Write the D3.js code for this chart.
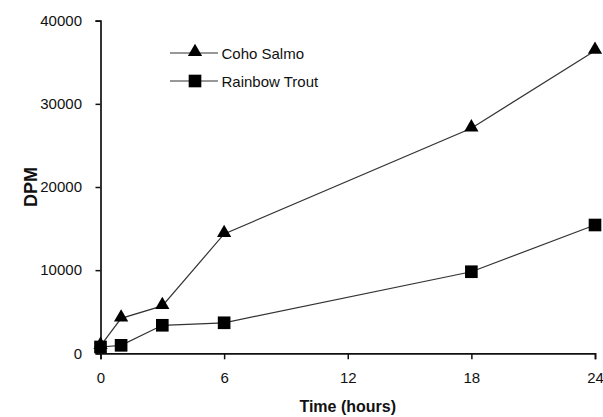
<!DOCTYPE html>
<html><head><meta charset="utf-8">
<script src="https://cdn.jsdelivr.net/npm/d3@7"></script>
<style>body{margin:0;background:#fff}svg{display:block}text{font-family:"Liberation Sans",Arial,sans-serif;fill:#111}</style>
</head><body>
<script>
const hours = [0, 1, 3, 6, 18, 24];
const cohoSalmo = [900, 4200, 5700, 14350, 27060, 36400];
const rainbowTrout = [760, 960, 3370, 3670, 9810, 15430];
const xTicks = [0, 6, 12, 18, 24];
const yTicks = [0, 10000, 20000, 30000, 40000];
const seriesNames = ["Coho Salmo", "Rainbow Trout"];

const W = 603, H = 417;
const svg = d3.select("body").append("svg").attr("width", W).attr("height", H);
const x = d3.scaleLinear().domain([0, 24]).range([100.5, 595]);
const y = d3.scaleLinear().domain([0, 40000]).range([353.3, 20.7]);

const xAxis = svg.append("g").attr("transform", `translate(0,${y(0)})`)
  .call(d3.axisBottom(x).tickValues(xTicks).tickSize(6).tickPadding(5).tickFormat(d3.format("d")));
const yAxis = svg.append("g").attr("transform", `translate(${x(0)},0)`)
  .call(d3.axisLeft(y).tickValues(yTicks).tickSize(5).tickPadding(13.5).tickFormat(d3.format("d")));
[xAxis, yAxis].forEach(a => {
  a.select(".domain").attr("stroke", "#111").attr("stroke-width", 1.7);
  a.selectAll(".tick line").attr("stroke", "#111").attr("stroke-width", 1.5);
  a.selectAll(".tick text").attr("font-size", 15).attr("font-family", '"Liberation Sans",Arial,sans-serif').attr("fill", "#111");
});
xAxis.selectAll(".tick text").attr("dy", "1.27em");

svg.append("text").attr("x", (x(0) + x(24)) / 2).attr("y", 411.5).attr("text-anchor", "middle")
  .attr("font-size", 16).attr("font-weight", "bold").text("Time (hours)");
svg.append("text").attr("transform", `translate(36.5,${y(20000)}) rotate(-90)`).attr("text-anchor", "middle")
  .attr("font-size", 18).attr("font-weight", "bold").text("DPM");

const line = d3.line().x(d => x(d[0])).y(d => y(d[1]));
const tri = d3.symbol().type(d3.symbolTriangle).size(88);
const sq = d3.symbol().type(d3.symbolSquare).size(160);

const series = [
  {name: seriesNames[0], vals: cohoSalmo, sym: tri, dy: -1},
  {name: seriesNames[1], vals: rainbowTrout, sym: sq, dy: 0}
];
series.forEach(s => {
  const pts = hours.map((h, i) => [h, s.vals[i]]);
  svg.append("path").datum(pts).attr("d", line).attr("fill", "none").attr("stroke", "#333").attr("stroke-width", 1.2);
  svg.selectAll(null).data(pts).enter().append("path")
    .attr("d", s.sym).attr("fill", "#000")
    .attr("transform", d => `translate(${x(d[0])},${y(d[1]) + s.dy})`);
});

// legend
series.forEach((s, i) => {
  const ly = 53 + i * 28;
  svg.append("line").attr("x1", 170).attr("x2", 218).attr("y1", ly).attr("y2", ly).attr("stroke", "#333").attr("stroke-width", 1.2);
  svg.append("path").attr("d", s.sym).attr("fill", "#000").attr("transform", `translate(195,${ly + s.dy})`);
  svg.append("text").attr("x", 221.5).attr("y", ly + 6).attr("font-size", 15).text(s.name);
});
</script>
</body></html>
